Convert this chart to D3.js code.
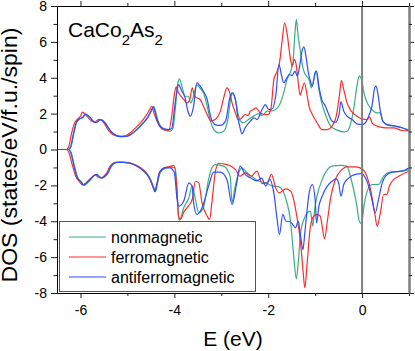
<!DOCTYPE html>
<html>
<head>
<meta charset="utf-8">
<script src="https://cdn.jsdelivr.net/npm/d3@7"></script>
<style>
  body { margin: 0; background: #fff; }
  svg { display: block; font-family: "Liberation Sans", Arial, sans-serif; }
</style>
</head>
<body>
<div id="chart"></div>
<script>
// series labels + colours
const SERIES = ['nonmagnetic', 'ferromagnetic', 'antiferromagnetic']
const COLORS = { nonmagnetic: '#3aae7e', ferromagnetic: '#ff2b2b', antiferromagnetic: '#2f4dff' }

const X_MAJOR = [-6, -4, -2, 0]
const X_MINOR = [-5, -3, -1, 1]
const Y_MAJOR = [-8, -6, -4, -2, 0, 2, 4, 6, 8]
const Y_MINOR = [-7, -5, -3, -1, 1, 3, 5, 7]

// [E (eV), DOS], spin up (positive) and spin down (negative)
const nmUp = [[-6.5,0],[-6.25,0],[-6.2,0.15],[-6.14,0.9],[-6.08,1.5],[-6.02,1.7],[-5.95,1.78],[-5.89,1.98],[-5.82,1.85],[-5.72,1.58],[-5.66,1.52],[-5.57,1.66],[-5.52,1.62],[-5.46,1.45],[-5.35,1.02],[-5.25,0.8],[-5.13,0.72],[-5.0,0.75],[-4.9,0.9],[-4.78,1.18],[-4.65,1.52],[-4.55,1.85],[-4.48,2.2],[-4.44,2.41],[-4.39,2.0],[-4.33,1.48],[-4.25,1.15],[-4.19,1.08],[-4.09,1.02],[-4.03,1.2],[-3.98,2.23],[-3.93,3.62],[-3.89,3.94],[-3.84,3.53],[-3.77,2.97],[-3.7,2.97],[-3.65,2.6],[-3.59,2.97],[-3.52,3.62],[-3.46,3.44],[-3.38,3.16],[-3.3,2.41],[-3.23,1.58],[-3.16,1.11],[-3.06,0.93],[-2.95,1.02],[-2.86,1.67],[-2.79,2.97],[-2.75,3.16],[-2.7,2.79],[-2.63,1.86],[-2.54,1.48],[-2.42,1.67],[-2.31,1.86],[-2.21,2.0],[-2.13,1.9],[-2.02,2.14],[-1.95,2.14],[-1.84,2.23],[-1.74,2.6],[-1.67,3.16],[-1.6,3.9],[-1.52,4.37],[-1.47,4.93],[-1.43,6.5],[-1.4,7.25],[-1.37,6.5],[-1.31,5.39],[-1.26,4.55],[-1.21,4.18],[-1.13,3.9],[-1.08,3.44],[-1.03,3.9],[-0.98,4.37],[-0.92,3.34],[-0.86,2.6],[-0.78,1.95],[-0.67,1.3],[-0.53,1.08],[-0.39,0.98],[-0.32,1.02],[-0.25,1.39],[-0.18,2.23],[-0.11,3.53],[-0.06,4.09],[-0.01,3.9],[0.04,3.16],[0.11,2.6],[0.21,2.23],[0.32,2.04],[0.39,2.04],[0.44,1.6],[0.53,1.39],[0.71,1.3],[0.85,1.21],[1.0,1.06]]
const nmDown = [[-6.5,0],[-6.25,0],[-6.2,-0.15],[-6.13,-0.9],[-6.06,-1.55],[-5.98,-1.8],[-5.92,-2.0],[-5.85,-1.85],[-5.78,-1.67],[-5.7,-1.45],[-5.64,-1.4],[-5.58,-1.55],[-5.53,-1.6],[-5.47,-1.5],[-5.42,-1.35],[-5.33,-0.9],[-5.22,-0.72],[-5.1,-0.72],[-4.94,-0.76],[-4.8,-0.9],[-4.7,-1.08],[-4.58,-1.35],[-4.5,-1.7],[-4.44,-2.1],[-4.4,-2.35],[-4.36,-1.9],[-4.3,-1.3],[-4.2,-1.05],[-4.08,-0.98],[-3.98,-1.02],[-3.94,-2.4],[-3.91,-3.72],[-3.89,-3.94],[-3.8,-3.25],[-3.69,-2.69],[-3.62,-2.04],[-3.55,-2.79],[-3.48,-3.53],[-3.38,-3.25],[-3.27,-1.67],[-3.2,-1.02],[-3.13,-0.84],[-2.95,-0.93],[-2.81,-1.49],[-2.77,-2.97],[-2.72,-2.3],[-2.67,-1.67],[-2.56,-1.02],[-2.45,-1.3],[-2.31,-1.58],[-2.17,-1.8],[-2.06,-1.85],[-1.91,-2.04],[-1.77,-2.08],[-1.63,-2.7],[-1.52,-4.09],[-1.45,-6.13],[-1.4,-7.21],[-1.36,-6.32],[-1.31,-4.65],[-1.24,-3.9],[-1.17,-3.53],[-1.1,-3.44],[-1.05,-4.28],[-1.01,-3.35],[-0.96,-2.6],[-0.85,-1.67],[-0.74,-1.12],[-0.64,-0.93],[-0.46,-0.89],[-0.32,-0.93],[-0.25,-1.49],[-0.18,-2.23],[-0.11,-3.16],[-0.06,-4.0],[-0.01,-4.13],[0.04,-3.16],[0.11,-2.32],[0.21,-1.95],[0.35,-1.95],[0.46,-1.49],[0.6,-1.26],[0.85,-1.21],[1.0,-1.12]]

const fmUp = [[-6.5,0],[-6.3,0],[-6.25,0.15],[-6.19,0.9],[-6.12,1.5],[-6.06,1.7],[-6.0,1.85],[-5.96,2.08],[-5.88,1.9],[-5.77,1.6],[-5.7,1.52],[-5.61,1.68],[-5.56,1.64],[-5.5,1.48],[-5.4,1.05],[-5.3,0.82],[-5.17,0.73],[-5.03,0.77],[-4.93,0.95],[-4.82,1.22],[-4.7,1.55],[-4.6,1.9],[-4.52,2.25],[-4.48,2.41],[-4.43,2.0],[-4.37,1.58],[-4.23,1.11],[-4.12,1.08],[-4.05,1.95],[-4.0,3.07],[-3.96,3.49],[-3.91,3.16],[-3.86,2.97],[-3.8,2.79],[-3.73,2.6],[-3.67,2.79],[-3.62,3.44],[-3.57,2.97],[-3.52,2.88],[-3.45,2.79],[-3.38,2.41],[-3.3,1.95],[-3.22,1.58],[-3.13,1.67],[-3.02,2.14],[-2.94,2.97],[-2.88,3.44],[-2.82,3.16],[-2.77,2.6],[-2.7,2.04],[-2.63,1.63],[-2.56,1.77],[-2.49,1.95],[-2.43,1.9],[-2.38,2.14],[-2.31,2.23],[-2.26,2.32],[-2.17,2.04],[-2.06,1.95],[-2.0,1.95],[-1.94,2.3],[-1.88,3.9],[-1.82,4.3],[-1.76,4.83],[-1.7,6.13],[-1.65,7.06],[-1.59,6.32],[-1.54,5.3],[-1.49,4.65],[-1.44,5.02],[-1.4,4.65],[-1.36,3.72],[-1.32,3.03],[-1.28,3.34],[-1.23,3.72],[-1.18,3.16],[-1.13,2.41],[-1.06,1.95],[-0.96,1.49],[-0.85,1.11],[-0.74,1.11],[-0.64,1.3],[-0.55,1.86],[-0.48,3.07],[-0.44,3.86],[-0.39,3.34],[-0.32,2.6],[-0.23,2.14],[-0.11,1.86],[0,1.71],[0.11,1.67],[0.16,1.82],[0.21,1.49],[0.32,1.3],[0.5,1.21],[0.67,1.21],[0.85,1.06],[1.0,1.04]]
const fmDown = [[-6.5,0],[-6.3,0],[-6.25,-0.15],[-6.17,-0.9],[-6.1,-1.5],[-6.02,-1.8],[-5.96,-1.98],[-5.9,-1.9],[-5.82,-1.7],[-5.74,-1.5],[-5.68,-1.42],[-5.62,-1.55],[-5.57,-1.58],[-5.5,-1.48],[-5.45,-1.35],[-5.37,-0.92],[-5.26,-0.72],[-5.12,-0.7],[-4.97,-0.74],[-4.82,-0.88],[-4.7,-1.05],[-4.6,-1.3],[-4.52,-1.65],[-4.46,-2.05],[-4.42,-2.3],[-4.37,-1.9],[-4.32,-1.3],[-4.22,-1.02],[-4.1,-0.95],[-4.01,-0.89],[-3.95,-2.0],[-3.91,-3.72],[-3.87,-3.9],[-3.8,-3.5],[-3.73,-3.25],[-3.62,-2.79],[-3.55,-1.77],[-3.48,-1.86],[-3.41,-2.97],[-3.3,-3.72],[-3.25,-3.9],[-3.2,-2.97],[-3.13,-1.3],[-3.06,-0.78],[-2.88,-0.84],[-2.7,-1.11],[-2.6,-1.49],[-2.49,-1.3],[-2.36,-1.49],[-2.24,-1.21],[-2.13,-1.9],[-2.02,-1.86],[-1.93,-1.39],[-1.84,-2.14],[-1.77,-2.42],[-1.63,-2.19],[-1.52,-2.32],[-1.45,-2.88],[-1.38,-3.9],[-1.31,-5.2],[-1.26,-6.69],[-1.22,-7.71],[-1.17,-6.32],[-1.1,-4.28],[-1.03,-3.72],[-0.96,-3.62],[-0.89,-3.72],[-0.85,-4.28],[-0.8,-4.98],[-0.74,-4.0],[-0.67,-2.7],[-0.57,-1.67],[-0.46,-1.21],[-0.32,-0.97],[-0.14,-0.97],[0,-1.08],[0.07,-1.3],[0.18,-2.23],[0.28,-3.72],[0.32,-4.28],[0.39,-3.53],[0.46,-2.51],[0.53,-2.51],[0.58,-2.04],[0.64,-1.77],[0.78,-1.49],[1.0,-1.21]]

const afmUp = [[-6.5,0],[-6.26,0],[-6.21,0.15],[-6.15,0.9],[-6.09,1.5],[-6.03,1.7],[-5.96,1.78],[-5.89,1.98],[-5.82,1.85],[-5.73,1.58],[-5.67,1.5],[-5.58,1.66],[-5.53,1.62],[-5.47,1.45],[-5.36,1.02],[-5.26,0.8],[-5.14,0.72],[-5.0,0.74],[-4.9,0.88],[-4.79,1.12],[-4.66,1.48],[-4.56,1.82],[-4.49,2.18],[-4.45,2.38],[-4.4,2.0],[-4.37,1.67],[-4.26,1.21],[-4.12,1.11],[-4.05,1.21],[-4.0,2.23],[-3.94,3.34],[-3.91,3.62],[-3.84,3.25],[-3.77,2.88],[-3.72,2.23],[-3.66,1.86],[-3.59,2.41],[-3.52,3.72],[-3.45,3.53],[-3.38,3.25],[-3.3,2.79],[-3.23,1.86],[-3.13,1.39],[-3.02,1.34],[-2.91,1.58],[-2.81,2.97],[-2.77,3.16],[-2.7,2.79],[-2.65,1.86],[-2.6,1.21],[-2.56,0.87],[-2.49,1.21],[-2.38,1.58],[-2.3,1.77],[-2.24,1.67],[-2.13,2.23],[-2.06,2.5],[-1.99,2.23],[-1.93,2.23],[-1.84,2.97],[-1.77,4.74],[-1.72,4.18],[-1.67,3.72],[-1.6,4.0],[-1.55,4.18],[-1.49,4.12],[-1.43,4.37],[-1.38,4.09],[-1.33,4.65],[-1.28,5.48],[-1.24,5.72],[-1.19,5.11],[-1.15,4.37],[-1.1,3.81],[-1.06,3.53],[-1.0,4.28],[-0.97,4.37],[-0.92,3.53],[-0.86,2.79],[-0.78,2.41],[-0.71,1.95],[-0.64,1.58],[-0.57,1.52],[-0.49,1.95],[-0.45,2.66],[-0.39,2.14],[-0.32,1.86],[-0.21,1.67],[-0.11,1.43],[0,1.39],[0.07,1.49],[0.14,1.86],[0.21,2.41],[0.27,3.44],[0.3,3.53],[0.34,3.07],[0.39,2.14],[0.44,1.58],[0.53,1.39],[0.71,1.3],[0.85,1.21],[1.0,1.06]]
const afmDown = [[-6.5,0],[-6.26,0],[-6.21,-0.15],[-6.14,-0.9],[-6.07,-1.55],[-5.99,-1.8],[-5.93,-1.98],[-5.86,-1.85],[-5.79,-1.67],[-5.71,-1.45],[-5.65,-1.4],[-5.59,-1.55],[-5.54,-1.58],[-5.48,-1.48],[-5.43,-1.35],[-5.34,-0.9],[-5.23,-0.72],[-5.1,-0.72],[-4.95,-0.76],[-4.81,-0.92],[-4.7,-1.1],[-4.59,-1.38],[-4.51,-1.72],[-4.45,-2.1],[-4.41,-2.35],[-4.37,-1.9],[-4.31,-1.25],[-4.2,-1.02],[-4.09,-1.02],[-4.0,-1.3],[-3.94,-2.79],[-3.91,-3.16],[-3.8,-2.88],[-3.69,-1.86],[-3.62,-2.04],[-3.59,-2.97],[-3.52,-3.62],[-3.41,-3.25],[-3.27,-2.04],[-3.16,-1.26],[-3.02,-1.26],[-2.88,-1.67],[-2.77,-3.07],[-2.67,-1.86],[-2.6,-0.93],[-2.49,-1.39],[-2.38,-1.58],[-2.24,-1.75],[-2.14,-1.6],[-2.05,-2.04],[-1.97,-1.67],[-1.88,-2.42],[-1.81,-3.9],[-1.76,-4.74],[-1.69,-3.62],[-1.62,-4.0],[-1.57,-4.0],[-1.49,-4.13],[-1.42,-4.37],[-1.36,-4.0],[-1.31,-4.83],[-1.26,-5.58],[-1.22,-4.65],[-1.17,-3.35],[-1.12,-2.32],[-1.06,-1.95],[-1.0,-2.79],[-0.97,-4.09],[-0.92,-3.16],[-0.85,-2.6],[-0.74,-2.04],[-0.64,-1.77],[-0.55,-1.64],[-0.5,-1.86],[-0.45,-2.6],[-0.39,-1.95],[-0.28,-1.58],[-0.14,-1.39],[0,-1.34],[0.07,-1.58],[0.14,-2.04],[0.21,-2.79],[0.28,-3.53],[0.35,-2.79],[0.43,-1.86],[0.5,-1.49],[0.64,-1.26],[0.85,-1.21],[1.0,-1.02]]

const CURVES = [
  { name: 'nonmagnetic', up: nmUp, down: nmDown },
  { name: 'ferromagnetic', up: fmUp, down: fmDown },
  { name: 'antiferromagnetic', up: afmUp, down: afmDown },
]

const W = 415, H = 351
const plotL = 57, plotR = 409, plotT = 6, plotB = 293

const svg = d3.select('#chart').append('svg').attr('width', W).attr('height', H)

const x = d3.scaleLinear().domain([-6.5, 1]).range([plotL, plotR])
const y = d3.scaleLinear().domain([-8, 8]).range([plotB, plotT])

svg.append('clipPath').attr('id', 'plot')
  .append('rect').attr('x', plotL).attr('y', plotT).attr('width', plotR - plotL).attr('height', plotB - plotT)

const line = d3.line().x(d => x(d[0])).y(d => y(d[1])).curve(d3.curveMonotoneX)

const plot = svg.append('g').attr('clip-path', 'url(#plot)')
CURVES.forEach(c => {
  ;[c.up, c.down].forEach(arr => {
    plot.append('path').datum(arr)
      .attr('d', line)
      .attr('fill', 'none')
      .attr('stroke', COLORS[c.name])
      .attr('stroke-width', 1.2)
  })
})

// Fermi level
svg.append('line')
  .attr('x1', x(0)).attr('x2', x(0)).attr('y1', plotT).attr('y2', plotB)
  .attr('stroke', '#808080').attr('stroke-width', 2)

// Axes
function styleAxis(g) {
  g.attr('font-family', '"Liberation Sans", Arial, sans-serif').attr('font-size', 14)
  g.selectAll('text').attr('fill', '#000')
  g.selectAll('line').attr('stroke', '#222')
  g.select('.domain').attr('stroke', '#000')
}

svg.append('g').attr('transform', `translate(0,${plotB})`)
  .call(d3.axisBottom(x).tickValues(X_MAJOR).tickSize(5).tickSizeOuter(0).tickPadding(7).tickFormat(d => String(d)))
  .call(styleAxis)
svg.append('g').attr('transform', `translate(0,${plotB})`)
  .call(d3.axisBottom(x).tickValues(X_MINOR).tickSize(3).tickSizeOuter(0).tickFormat(''))
  .call(styleAxis)
svg.append('g').attr('transform', `translate(0,${plotT})`)
  .call(d3.axisTop(x).tickValues(X_MAJOR).tickSize(5).tickSizeOuter(0).tickFormat(''))
  .call(styleAxis)
svg.append('g').attr('transform', `translate(0,${plotT})`)
  .call(d3.axisTop(x).tickValues(X_MINOR).tickSize(3).tickSizeOuter(0).tickFormat(''))
  .call(styleAxis)

svg.append('g').attr('transform', `translate(${plotL},0)`)
  .call(d3.axisLeft(y).tickValues(Y_MAJOR).tickSize(6).tickSizeOuter(0).tickPadding(4).tickFormat(d => String(d)))
  .call(styleAxis)
svg.append('g').attr('transform', `translate(${plotL},0)`)
  .call(d3.axisLeft(y).tickValues(Y_MINOR).tickSize(3.5).tickSizeOuter(0).tickFormat(''))
  .call(styleAxis)

const rAxis = svg.append('g').attr('transform', `translate(${plotR},0)`)
rAxis.call(d3.axisRight(y).tickValues(Y_MAJOR).tickSize(5).tickSizeOuter(0).tickFormat('')).call(styleAxis)
rAxis.append('g').call(d3.axisRight(y).tickValues(Y_MINOR).tickSize(3).tickSizeOuter(0).tickFormat('')).call(styleAxis)
rAxis.selectAll('.domain').attr('stroke', '#808080').attr('stroke-width', 2)

// Axis titles
svg.append('text')
  .attr('x', (plotL + plotR) / 2).attr('y', 346)
  .attr('text-anchor', 'middle').attr('font-size', 21)
  .text('E (eV)')

svg.append('text')
  .attr('transform', 'translate(17,155) rotate(-90)')
  .attr('text-anchor', 'middle').attr('font-size', 22)
  .attr('textLength', 255).attr('lengthAdjust', 'spacingAndGlyphs')
  .text('DOS (states/eV/f.u./spin)')

// Compound label
const title = svg.append('text').attr('x', 68).attr('y', 37).attr('font-size', 21)
title.append('tspan').text('CaCo')
title.append('tspan').attr('font-size', 15).attr('dy', 8).text('2')
title.append('tspan').attr('dy', -8).text('As')
title.append('tspan').attr('font-size', 15).attr('dy', 8).text('2')

// Legend
const legend = svg.append('g')
legend.append('rect')
  .attr('x', 59.5).attr('y', 221.5).attr('width', 196).attr('height', 70)
  .attr('fill', '#fff').attr('stroke', '#555').attr('stroke-width', 1)
SERIES.forEach((s, i) => {
  const ly = 237 + i * 20
  legend.append('line').attr('x1', 69).attr('x2', 106).attr('y1', ly).attr('y2', ly)
    .attr('stroke', COLORS[s]).attr('stroke-width', 1.2)
  legend.append('text').attr('x', 111).attr('y', ly + 5.5).attr('font-size', 16).text(s)
})
</script>
</body>
</html>
